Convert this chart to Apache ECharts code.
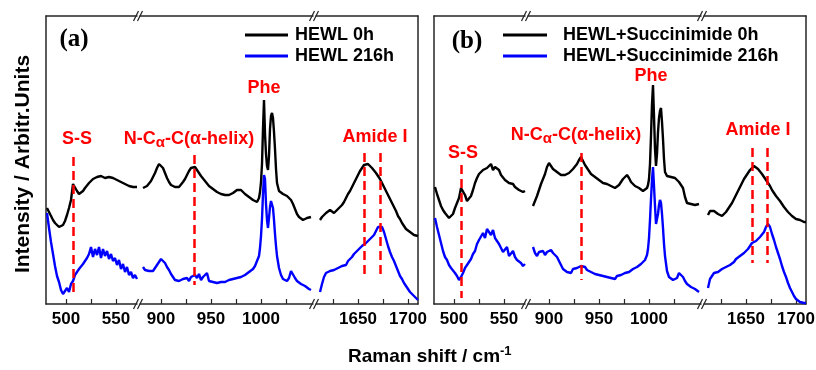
<!DOCTYPE html>
<html>
<head>
<meta charset="utf-8">
<script src="https://cdn.jsdelivr.net/npm/echarts@6/dist/echarts.min.js"></script>
<style>
  html, body { margin: 0; padding: 0; background: #fff; }
  #chart { width: 816px; height: 370px; }
</style>
</head>
<body>
<div id="chart"></div>
<script>
// Raman shift sampling per axis segment (cm-1)
const shiftLow = [481,483,485,487,489,491,493,495,497,499,501,503,505,507,509,511,513,515,517,519,
  521,523,525,527,529,531,533,535,537,539,541,543,545,547,549,551,553,555,557,559,561,563,565,567,569,571];
const shiftMid = [882,884,886,888,890,892,894,896,898,900,902,904,906,908,910,912,914,916,918,920,
  922,924,926,928,930,932,934,936,938,940,942,944,946,948,950,952,954,956,958,960,
  962,964,966,968,970,972,974,976,978,980,982,984,986,988,990,992,994,996,998,
  999,1000,1001,1002,1003,1004,1005,1006,1007,1008,1009,1010,1011,1012,1013,1014,1015,1016,
  1018,1020,1022,1024,1026,1028,1030,1032,1034,1036,1038,1040,1042,1044,1046,1048,1050];
const shiftHigh = [1612,1614,1616,1618,1620,1622,1624,1626,1628,1630,1632,1634,1636,1638,1640,1642,1644,1646,1648,1650,
  1652,1654,1656,1658,1660,1662,1664,1666,1668,1670,1672,1674,1676,1678,1680,1682,1684,1686,1688,1690,
  1692,1694,1696,1698,1700,1702,1704,1706,1708,1710];

// (a) HEWL 0h
const hewl0Low = [96,92,88,84,81,79,77,77,79,83,89,96,104,120,119,113,110,111,113,116,
  118,121,123,125,126,127,126,128,127,126,128,127,128,126,124,124,122,122,121,120,119,118,118,117,116,117];
const hewl0Mid = [116,117,118,120,123,127,131,136,140,140,136,131,126,122,119,118,117,118,117,119,
  122,125,129,133,136,138,137,134,131,128,126,123,121,118,116,115,113,112,112,110,
  109,109,108,109,109,111,112,114,115,114,112,110,109,107,106,104,103,102,106,
  112,122,140,175,204,170,150,138,134,148,175,188,191,186,172,155,135,121,
  113,111,110,109,108,106,104,100,95,90,87,85,84,85,86,87,87];
const hewl0High = [84,87,89,91,93,94,94,91,92,95,97,99,102,106,110,113,117,121,125,129,
  133,136,139,141,140,138,136,134,131,128,125,121,117,113,109,105,101,97,93,88,
  85,81,78,75,73,72,70,69,69,68];

// (a) HEWL 216h
const hewl216Low = [91,76,62,50,38,28,22,14,10,8,16,12,20,23,29,31,35,34,40,42,
  46,50,57,47,55,49,57,46,55,48,53,45,50,43,46,39,44,35,40,32,37,29,32,26,29,25];
const hewl216Mid = [37,34,32,33,34,33,36,39,41,45,43,41,37,34,30,27,24,22,23,21,
  25,24,26,23,27,25,29,26,30,24,27,25,31,23,24,22,24,21,23,22,
  24,22,23,24,23,25,24,26,25,27,28,29,31,32,34,35,38,40,48,
  56,68,85,110,129,125,100,84,76,86,97,103,104,96,84,70,58,48,
  36,29,25,24,23,26,33,33,26,23,22,20,19,18,16,15,14];
const hewl216High = [12,20,27,31,29,33,31,34,33,36,35,38,40,39,43,45,47,50,49,54,
  55,58,59,61,63,65,67,69,73,77,78,77,72,65,58,52,47,43,38,33,
  28,25,21,18,15,12,10,8,6,4];

// (b) HEWL+Succinimide 0h
const succ0Low = [117,110,104,98,94,91,89,86,88,90,96,101,106,116,114,109,103,105,108,114,
  121,126,130,132,134,133,136,138,140,134,137,135,134,129,127,124,122,121,119,120,117,116,114,113,112,113];
const succ0Mid = [null,98,103,108,114,120,125,130,137,141,138,135,134,132,131,129,128,129,130,131,
  133,135,137,140,144,147,143,139,136,133,130,128,127,125,124,123,121,122,120,119,
  118,117,116,117,119,122,125,127,129,126,122,120,118,117,116,115,113,112,116,
  119,125,140,168,200,219,188,155,138,150,172,186,193,196,182,165,145,132,
  128,126,127,125,126,124,122,120,116,107,101,99,100,98,99,98,100];
const succ0High = [89,93,92,93,92,90,89,88,90,92,95,98,101,105,109,113,117,121,125,128,
  131,134,136,138,137,135,133,130,127,124,121,118,114,111,108,106,103,100,97,95,
  92,90,88,86,85,84,84,83,82,82];

// (b) HEWL+Succinimide 216h
const succ216Low = [86,77,69,61,53,47,44,39,36,35,31,28,24,27,31,36,38,42,45,50,
  53,60,64,66,71,66,75,76,69,74,66,65,60,56,52,50,57,48,47,53,47,44,42,41,38,40];
const succ216Mid = [null,57,51,48,52,50,53,49,52,50,54,51,52,47,43,39,35,34,32,33,
  31,35,34,36,35,38,36,37,34,35,32,33,30,32,29,31,28,30,27,28,
  26,27,25,28,27,29,28,31,30,32,33,35,34,37,39,40,42,44,49,
  55,66,84,105,124,137,118,98,80,78,90,99,104,101,90,76,60,48,
  33,27,25,24,24,26,31,33,27,23,20,19,17,16,15,13,12];
const succ216High = [16,25,28,31,29,32,33,35,33,37,38,39,41,42,45,46,48,49,51,53,
  55,58,61,62,63,65,67,69,72,77,80,77,70,64,57,51,45,38,32,27,
  21,16,12,8,5,3,2,1,1,1];

// ticks and labels
const ticksLow = [500, 525, 550];
const labelsLow = [500, 550];
const ticksMid = [900, 925, 950, 975, 1000, 1025];
const labelsMid = [900, 950, 1000];
const ticksHigh = [1625, 1650, 1675, 1700];
const labelsHigh = [1650, 1700];

// dashed band markers: [segment, shift, top, bottom]
const marksA = [[0, 507.5, 147, 12], [1, 933, 149, 19], [2, 1656, 151, 27], [2, 1672, 151, 27]];
const marksB = [[0, 507.5, 139, 6], [1, 932, 151, 24], [2, 1656.5, 156, 41], [2, 1671, 156, 41]];

const FONT = '"Liberation Sans", Arial, sans-serif';
const RED = '#ff0000';
const AXIS = '#262626';
const COLORS = ['#000000', '#0000ff'];

const segments = [
  { shift: shiftLow, min: 480, max: 571, left: 46, ticks: ticksLow, labels: labelsLow },
  { shift: shiftMid, min: 879, max: 1052, left: 140, ticks: ticksMid, labels: labelsMid },
  { shift: shiftHigh, min: 1608, max: 1710, left: 316, ticks: ticksHigh, labels: labelsHigh }
];

const panels = [
  { dx: 0, names: ['HEWL 0h', 'HEWL 216h'],
    spectra: [[hewl0Low, hewl0Mid, hewl0High], [hewl216Low, hewl216Mid, hewl216High]], marks: marksA },
  { dx: 388, names: ['HEWL+Succinimide 0h', 'HEWL+Succinimide 216h'],
    spectra: [[succ0Low, succ0Mid, succ0High], [succ216Low, succ216Mid, succ216High]], marks: marksB }
];

const grid = [], xAxis = [], yAxis = [], series = [];

panels.forEach((p, pi) => {
  segments.forEach((s, si) => {
    const g = pi * 3 + si;
    grid.push({ left: s.left + p.dx, top: 16, width: s.max - s.min, height: 288, containLabel: false, outerBoundsMode: 'none' });
    xAxis.push({
      gridIndex: g, type: 'value', min: s.min, max: s.max, position: 'bottom',
      axisLine: { lineStyle: { color: AXIS, width: 1.5 } },
      axisTick: { inside: true, length: 5, customValues: s.ticks, lineStyle: { color: AXIS, width: 1.2 } },
      axisLabel: { customValues: s.labels, formatter: v => String(v), margin: 7, color: '#000',
        fontFamily: FONT, fontWeight: 'bold', fontSize: 17 },
      splitLine: { show: false }
    });
    xAxis.push({
      gridIndex: g, type: 'value', min: s.min, max: s.max, position: 'top',
      axisLine: { lineStyle: { color: AXIS, width: 1.5 } },
      axisTick: { show: false }, axisLabel: { show: false }, splitLine: { show: false }
    });
    yAxis.push({
      gridIndex: g, type: 'value', min: 0, max: 288, show: si !== 1,
      position: si === 2 ? 'right' : 'left',
      axisLine: { show: true, lineStyle: { color: AXIS, width: 1.5 } },
      axisTick: { show: false }, axisLabel: { show: false }, splitLine: { show: false }
    });
    p.spectra.forEach((spec, k) => {
      const vals = spec[si];
      const item = {
        type: 'line', name: p.names[k], xAxisIndex: g * 2, yAxisIndex: g,
        data: s.shift.map((x, j) => [x, vals[j]]),
        symbol: 'none', showSymbol: false, animation: false, silent: true,
        lineStyle: { color: COLORS[k], width: 2.4 }, itemStyle: { color: COLORS[k] },
        z: k === 0 ? 3 : 2
      };
      if (k === 0) {
        const m = p.marks.filter(d => d[0] === si);
        if (m.length) {
          item.markLine = {
            silent: true, symbol: ['none', 'none'], animation: false,
            label: { show: false },
            lineStyle: { color: RED, width: 2.5, type: [9, 5] },
            data: m.map(d => [{ coord: [d[1], d[2]] }, { coord: [d[1], d[3]] }])
          };
        }
      }
      series.push(item);
    });
  });
});

const legendText = { fontFamily: FONT, fontWeight: 'bold', fontSize: 18, color: '#000' };
const legend = [
  { data: panels[0].names, left: 240, top: 21, orient: 'vertical', icon: 'rect', itemWidth: 43, itemHeight: 3,
    itemGap: 3, textStyle: Object.assign({ padding: [0, 0, 0, 2] }, legendText), selectedMode: false },
  { data: panels[1].names, left: 498, top: 21, orient: 'vertical', icon: 'rect', itemWidth: 44, itemHeight: 3,
    itemGap: 3, textStyle: Object.assign({ padding: [0, 0, 0, 11] }, legendText), selectedMode: false }
];

// annotation texts
function redText(x, y, txt) {
  return { type: 'text', x: x, y: y, silent: true,
    style: { text: txt, fill: RED, font: 'bold 18px ' + FONT, align: 'center', verticalAlign: 'middle' } };
}
function helixText(x, y) {
  return { type: 'text', x: x, y: y, silent: true,
    style: {
      text: '{m|N-C}{s|α}{m|-C(α-helix)}', align: 'center', verticalAlign: 'middle',
      rich: {
        m: { fill: RED, fontFamily: FONT, fontWeight: 'bold', fontSize: 18, lineHeight: 20 },
        s: { fill: RED, fontFamily: FONT, fontWeight: 'bold', fontSize: 15, padding: [8, 0, 0, 0] }
      }
    } };
}
function breakMarks(cx, y) {
  return [-2.5, 1.5].map(o => ({
    type: 'line', silent: true,
    shape: { x1: cx + o - 2.5, y1: y + 5, x2: cx + o + 2.5, y2: y - 5 },
    style: { stroke: AXIS, lineWidth: 1.2 }
  }));
}

const graphic = [
  redText(77, 139, 'S-S'), helixText(189, 139), redText(264, 88, 'Phe'), redText(375, 137, 'Amide I'),
  redText(463, 153, 'S-S'), helixText(576, 135), redText(651, 76, 'Phe'), redText(758, 130, 'Amide I'),
  { type: 'text', x: 74, y: 40, silent: true,
    style: { text: '(a)', fill: '#000', font: 'bold 25px "Liberation Serif", "Times New Roman", serif', align: 'center', verticalAlign: 'middle' } },
  { type: 'text', x: 467, y: 42, silent: true,
    style: { text: '(b)', fill: '#000', font: 'bold 25px "Liberation Serif", "Times New Roman", serif', align: 'center', verticalAlign: 'middle' } },
  { type: 'text', x: 23, y: 164, rotation: Math.PI / 2, silent: true,
    style: { text: 'Intensity / Arbitr.Units', fill: '#000', font: 'bold 21px ' + FONT, align: 'center', verticalAlign: 'middle' } },
  { type: 'text', x: 348, y: 357, silent: true,
    style: {
      text: '{t|Raman shift / cm}{u|-1}', verticalAlign: 'middle', align: 'left',
      rich: {
        t: { fill: '#000', fontFamily: FONT, fontWeight: 'bold', fontSize: 19, lineHeight: 22 },
        u: { fill: '#000', fontFamily: FONT, fontWeight: 'bold', fontSize: 13, padding: [0, 0, 12, 0] }
      }
    } }
];
[138.5, 314.5, 526.5, 702.5].forEach(cx => {
  graphic.push(...breakMarks(cx, 16), ...breakMarks(cx, 304));
});

const chart = echarts.init(document.getElementById('chart'), null, { renderer: 'canvas' });
chart.setOption({
  backgroundColor: '#ffffff',
  animation: false,
  grid: grid,
  xAxis: xAxis,
  yAxis: yAxis,
  legend: legend,
  series: series,
  graphic: graphic
});
</script>
</body>
</html>
